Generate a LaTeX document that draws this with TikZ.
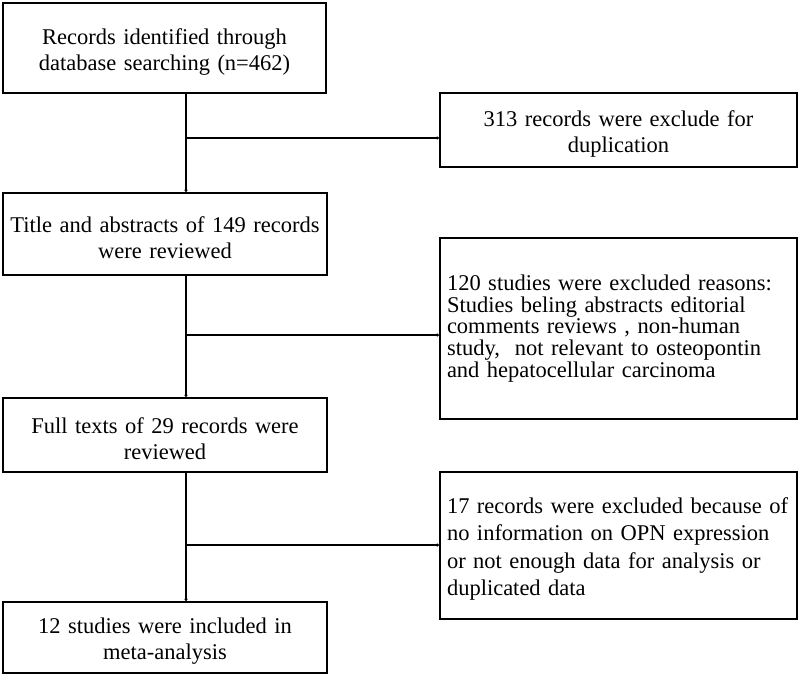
\documentclass[tikz,border=0pt]{standalone}
\usepackage{fontspec}
\setmainfont{Liberation Serif}
\usetikzlibrary{arrows.meta}
\begin{document}
\begin{tikzpicture}[x=1pt,y=-1pt,
  box/.style={draw=black,line width=1.3pt,rectangle,inner sep=0pt,
    font=\fontsize{22.5}{26}\selectfont},
  lowered/.style={execute at begin node={\rule{0pt}{23pt}}},
  conn/.style={line width=2.6pt,-{Latex[length=2.5pt,width=4pt]}}]
\useasboundingbox (0,0) rectangle (800,678);
% left column
\node[box,lowered,minimum width=323pt,minimum height=90pt,text width=316pt,align=center] (b1) at (164.5,48) {Records identified through\\database searching (n=462)};
\node[box,lowered,minimum width=324pt,minimum height=82pt,text width=318pt,align=center] (b2) at (165,234) {Title and abstracts of 149 records\\were reviewed};
\node[box,lowered,minimum width=324pt,minimum height=74pt,text width=316pt,align=center] (b3) at (165,435) {Full texts of 29 records were\\reviewed};
\node[box,lowered,minimum width=324pt,minimum height=71pt,text width=316pt,align=center] (b4) at (165,637.5) {12 studies were included in\\meta-analysis};
% right column
\node[box,lowered,minimum width=357pt,minimum height=74pt,text width=345pt,align=center] (r1) at (618.5,130) {313 records were exclude for\\duplication};
\node[box,minimum width=357pt,minimum height=181pt,text width=343pt,align=left,
  font=\fontsize{22.5}{21.8}\selectfont] (r2) at (618.5,328.5) {120 studies were excluded reasons:\\Studies beling abstracts editorial\\comments reviews , non-human\\study,\ \ not relevant to osteopontin\\and hepatocellular carcinoma};
\node[box,lowered,minimum width=357pt,minimum height=147pt,text width=343pt,align=left,
  font=\fontsize{22.5}{27.3}\selectfont] (r3) at (618.5,545.5) {17 records were excluded because of\\no information on OPN expression\\or not enough data for analysis or\\duplicated data};
% connectors
\coordinate (v) at (186,0);
\coordinate (j1) at (186,138);
\coordinate (j2) at (186,335);
\coordinate (j3) at (186,545);
\draw[conn] (v |- b1.south) -- (v |- b2.north);
\draw[conn] (v |- b2.south) -- (v |- b3.north);
\draw[conn] (v |- b3.south) -- (v |- b4.north);
\draw[conn] (j1) -- (j1 -| r1.west);
\draw[conn] (j2) -- (j2 -| r2.west);
\draw[conn] (j3) -- (j3 -| r3.west);
\end{tikzpicture}
\end{document}
